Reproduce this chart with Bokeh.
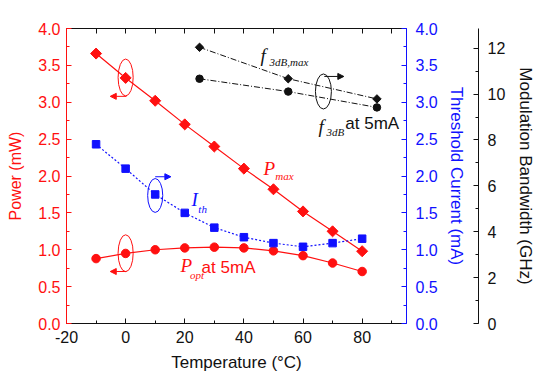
import numpy as np
from bokeh.plotting import figure
from bokeh.models import (LinearAxis, Range1d, SingleIntervalTicker, FixedTicker,
                          NumeralTickFormatter, CustomJSTickFormatter, Arrow, NormalHead)
from bokeh.core.properties import value
from bokeh.embed import file_html
from bokeh.resources import INLINE

# ---- data ----
temps = [-10, 0, 10, 20, 30, 40, 50, 60, 70, 80]
p_max = [3.66, 3.33, 3.02, 2.70, 2.40, 2.10, 1.82, 1.52, 1.25, 0.98]
p_opt = [0.88, 0.95, 1.00, 1.025, 1.035, 1.025, 0.985, 0.92, 0.82, 0.705]
i_th = [2.43, 2.10, 1.75, 1.50, 1.30, 1.17, 1.09, 1.04, 1.09, 1.15]
f_temps = [25, 55, 85]
f3db_max = [12.04, 10.67, 9.79]
f3db_5ma = [10.67, 10.11, 9.42]

RED = "#ff1010"
BLUE = "#1010ff"
BLACK = "#111111"
SANS = "Liberation Sans"
SERIF = "Liberation Serif"

p = figure(frame_width=340, frame_height=295,
           x_range=Range1d(-20, 95), y_range=Range1d(0, 4),
           output_backend="svg", toolbar_location=None,
           min_border_left=66, min_border_top=28, min_border_right=0, min_border_bottom=0,
           x_axis_location=None, y_axis_location=None)
p.extra_y_ranges = {"bw": Range1d(0, 12.86)}
p.xgrid.visible = False
p.ygrid.visible = False
p.outline_line_color = None
p.background_fill_color = "white"
p.border_fill_color = "white"


def style_axis(ax, color, tick_size="16px", label_size="17px"):
    ax.axis_line_color = color
    ax.major_tick_line_color = color
    ax.minor_tick_line_color = color
    ax.major_label_text_color = color
    ax.axis_label_text_color = color
    ax.major_label_text_font = SANS
    ax.axis_label_text_font = SANS
    ax.major_label_text_font_size = tick_size
    ax.axis_label_text_font_size = label_size
    ax.axis_label_text_font_style = "normal"
    ax.major_tick_out = 0
    ax.minor_tick_out = 0
    ax.major_tick_in = 5
    ax.minor_tick_in = 3


# bottom x axis
xb = LinearAxis(ticker=SingleIntervalTicker(interval=20, num_minor_ticks=2),
                formatter=NumeralTickFormatter(format="0"),
                axis_label="Temperature (°C)")
style_axis(xb, BLACK)
xb.major_label_standoff = 7
xb.axis_label_standoff = 7
p.add_layout(xb, "below")

# top x axis (ticks only)
xt = LinearAxis(ticker=SingleIntervalTicker(interval=10, num_minor_ticks=0),
                formatter=CustomJSTickFormatter(code="return ''"))
style_axis(xt, BLACK)
xt.major_label_standoff = 0
p.add_layout(xt, "above")

# left power axis
yl = LinearAxis(ticker=SingleIntervalTicker(interval=0.5, num_minor_ticks=2),
                formatter=NumeralTickFormatter(format="0.0"),
                axis_label="Power (mW)")
style_axis(yl, RED, label_size="16px")
yl.major_label_standoff = 6
yl.axis_label_standoff = 11
p.add_layout(yl, "left")

# right threshold axis
yr = LinearAxis(ticker=SingleIntervalTicker(interval=0.5, num_minor_ticks=2),
                formatter=NumeralTickFormatter(format="0.0"),
                axis_label="Threshold Current (mA)")
style_axis(yr, BLUE)
yr.major_label_standoff = 9
yr.axis_label_standoff = 6
p.add_layout(yr, "right")

# blank spacer between the two right axes
sp = LinearAxis(ticker=FixedTicker(ticks=[]), axis_label="|")
sp.axis_line_color = None
sp.major_tick_line_color = None
sp.minor_tick_line_color = None
sp.axis_label_text_color = "white"
sp.axis_label_text_font_size = "7px"
sp.axis_label_standoff = 0
sp.major_label_standoff = 0
p.add_layout(sp, "right")

# right bandwidth axis
yb = LinearAxis(y_range_name="bw",
                ticker=SingleIntervalTicker(interval=2, num_minor_ticks=2),
                axis_label="Modulation Bandwidth (GHz)")
style_axis(yb, BLACK)
yb.major_label_standoff = 9
yb.axis_label_standoff = 8
p.add_layout(yb, "right")

# ---- series ----
diamond = dict(marker="square", angle=np.pi / 4)

p.line(temps, p_max, line_color=RED, line_width=1.2)
p.scatter(temps, p_max, size=7.8, fill_color=RED, line_color=RED, **diamond)

p.line(temps, p_opt, line_color=RED, line_width=1.2)
p.scatter(temps, p_opt, marker="circle", size=8.5, fill_color=RED, line_color=RED)

p.line(temps, i_th, line_color=BLUE, line_width=1.2, line_dash="2 2")
p.scatter(temps, i_th, marker="square", size=7.5, fill_color=BLUE, line_color=BLUE)

p.line(f_temps, f3db_max, y_range_name="bw", line_color=BLACK, line_width=1, line_dash="6 2 1 2")
p.scatter(f_temps, f3db_max, y_range_name="bw", size=6, fill_color=BLACK, line_color=BLACK, **diamond)

p.line(f_temps, f3db_5ma, y_range_name="bw", line_color=BLACK, line_width=1, line_dash="6 2 1 2")
p.scatter(f_temps, f3db_5ma, y_range_name="bw", marker="circle", size=7.5,
          fill_color=BLACK, line_color=BLACK)

# ---- annotations: ellipses + arrows ----
p.ellipse(x=[0, 0], y=[3.336, 0.953], width=5.1, height=0.5,
          fill_color=None, line_color=RED, line_width=1)
p.ellipse(x=[10], y=[1.736], width=5.1, height=0.46,
          fill_color=None, line_color=BLUE, line_width=1)
p.ellipse(x=[66.9], y=[3.146], width=5.4, height=0.475,
          fill_color=None, line_color=BLACK, line_width=1)

for (xs, ys, xe, ye, c) in [(0.3, 3.08, -5.2, 3.08, RED),
                            (0.3, 0.705, -5.2, 0.705, RED),
                            (10, 1.99, 15.3, 1.99, BLUE),
                            (67.2, 3.35, 73.8, 3.35, BLACK)]:
    p.add_layout(Arrow(end=NormalHead(size=6, fill_color=c, line_color=c),
                       x_start=xs, y_start=ys, x_end=xe, y_end=ye,
                       line_color=c, line_width=1))

# ---- labels ----
def lab(x, y, t, color, size, serif=True):
    p.text(x=[x], y=[y], text=[t], text_color=color,
           text_font=value(SERIF if serif else SANS),
           text_font_style="italic" if serif else "normal",
           text_font_size=size, text_baseline="middle", text_align="left")

lab(46.6, 2.10, "P", RED, "19px")
lab(50.6, 2.00, "max", RED, "11px")
lab(22.3, 1.68, "I", BLUE, "19px")
lab(24.6, 1.55, "th", BLUE, "11px")
lab(18.6, 0.786, "P", RED, "19px")
lab(21.8, 0.651, "opt", RED, "11px")
lab(25.7, 0.76, "at 5mA", RED, "17px", serif=False)
lab(45.6, 3.63, "f", BLACK, "19px")
lab(48.7, 3.54, "3dB,max", BLACK, "11px")
lab(65.2, 2.67, "f", BLACK, "19px")
lab(67.9, 2.59, "3dB", BLACK, "11px")
lab(74.3, 2.71, "at 5mA", BLACK, "17px", serif=False)

open("out.html", "w").write(file_html(p, INLINE))
